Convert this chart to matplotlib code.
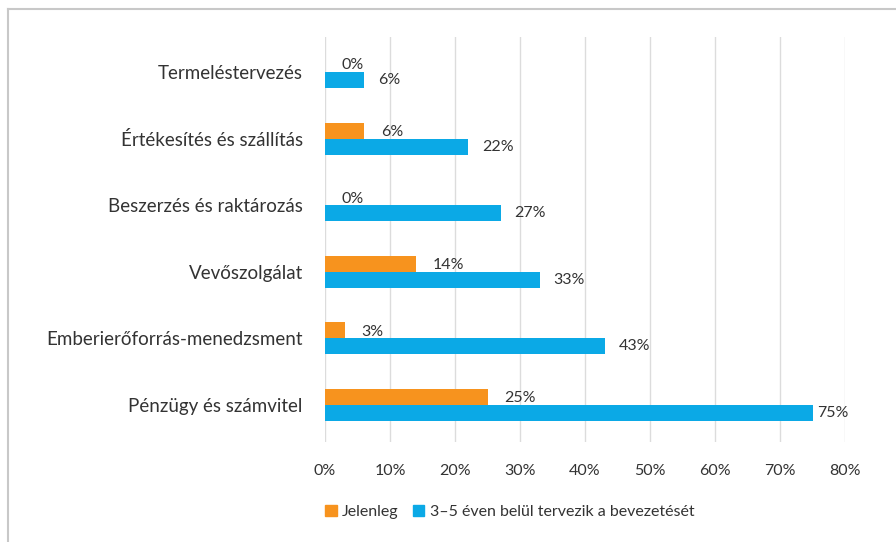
import numpy as np
import matplotlib.pyplot as plt
from matplotlib.patches import Patch

# adatok (felülről lefelé)
categories = ['Termeléstervezés', 'Értékesítés és szállítás', 'Beszerzés és raktározás',
              'Vevőszolgálat', 'Emberierőforrás-menedzsment', 'Pénzügy és számvitel']
jelenleg = [0, 6, 0, 14, 3, 25]
tervezik = [6, 22, 27, 33, 43, 75]
series_names = ['Jelenleg', '3–5 éven belül tervezik a bevezetését']
x_ticks = [0, 10, 20, 30, 40, 50, 60, 70, 80]

orange = '#F7931E'
blue = '#0BA9E6'
txt = '#333333'

plt.rcParams['font.family'] = ['Lato', 'DejaVu Sans']

fig = plt.figure(figsize=(8.96, 5.42), dpi=100)
ax = fig.add_axes([325 / 896, 1 - 442 / 542, 520 / 896, 405 / 542])

y = np.arange(len(categories))
h = 0.24
ax.barh(y - h / 2, jelenleg, height=h, color=orange, zorder=3)
ax.barh(y + h / 2, tervezik, height=h, color=blue, zorder=3)

# értékcímkék
for yi, v in zip(y, jelenleg):
    ax.annotate(f'{v}%', (v, yi - h / 2), xytext=(12, -1), textcoords='offset points',
                ha='left', va='center', fontsize=11.5, color=txt)
for yi, v in zip(y, tervezik):
    off = 3 if v > 70 else 10
    ax.annotate(f'{v}%', (v, yi + h / 2), xytext=(off, 0), textcoords='offset points',
                ha='left', va='center', fontsize=11.5, color=txt)

ax.set_xlim(0, 80)
ax.set_ylim(5.556, -0.525)
ax.set_xticks(x_ticks)
ax.set_xticklabels([f'{t}%' for t in x_ticks], fontsize=11.5, color=txt)
ax.set_yticks(y)
ax.set_yticklabels(categories, fontsize=13.5, color=txt)
ax.tick_params(axis='both', length=0)
ax.tick_params(axis='x', pad=16)
ax.tick_params(axis='y', pad=16)
ax.grid(axis='x', color='#dcdcdc', linewidth=1, zorder=0)
for s in ax.spines.values():
    s.set_visible(False)

handles = [Patch(color=orange), Patch(color=blue)]
fig.legend(handles, series_names, loc='center left', bbox_to_anchor=(311 / 896, 1 - 512 / 542),
           ncol=2, frameon=False, fontsize=11.5, handlelength=0.7, handleheight=0.7,
           handletextpad=0.35, columnspacing=0.9, labelcolor=txt)

# keret
fig.add_artist(plt.Line2D([8 / 896, 1], [1 - 9 / 542] * 2, color='#c8c8c8', lw=1.5))
fig.add_artist(plt.Line2D([8 / 896] * 2, [0, 1 - 9 / 542], color='#c8c8c8', lw=1.5))

fig.savefig('out.png', dpi=100, facecolor='white')
